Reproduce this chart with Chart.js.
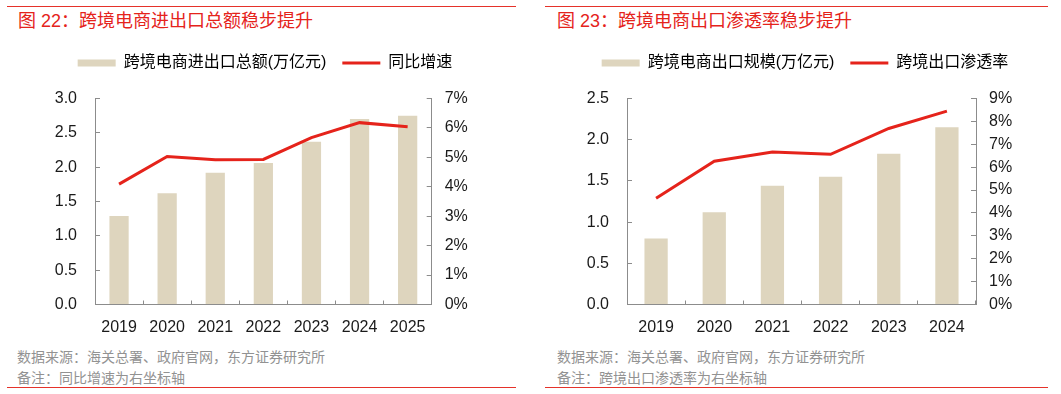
<!DOCTYPE html>
<html>
<head>
<meta charset="utf-8">
<script src="https://cdn.jsdelivr.net/npm/chart.js@4"></script>
<style>
  body { margin: 0; background: #fff; width: 1061px; height: 394px; position: relative; overflow: hidden;
         font-family: "Liberation Sans", "Noto Sans CJK SC", sans-serif; }
  .rule { position: absolute; height: 1px; background: #e5322a; }
  .title { position: absolute; top: 11px; font-size: 18px; line-height: 20px; color: #e5231b; white-space: nowrap; }
  .note { position: absolute; font-size: 14px; line-height: 21px; color: #929292; white-space: nowrap; }
  canvas { position: absolute; top: 0; }
</style>
</head>
<body>
<div class="rule" style="left:7px; width:509px; top:6px"></div>
<div class="rule" style="left:545px; width:503px; top:6px"></div>
<div class="title" style="left:18px">图 22：跨境电商进出口总额稳步提升</div>
<div class="title" style="left:557px">图 23：跨境电商出口渗透率稳步提升</div>

<canvas id="chart-total" style="left:0; width:530px; height:345px"></canvas>
<canvas id="chart-export" style="left:549px; width:512px; height:345px"></canvas>

<div class="note" style="left:17px; top:347px">数据来源：海关总署、政府官网，东方证券研究所</div>
<div class="note" style="left:17px; top:368px">备注：同比增速为右坐标轴</div>
<div class="note" style="left:557px; top:347px">数据来源：海关总署、政府官网，东方证券研究所</div>
<div class="note" style="left:557px; top:368px">备注：跨境出口渗透率为右坐标轴</div>
<div class="rule" style="left:7px; width:509px; top:387px"></div>
<div class="rule" style="left:545px; width:503px; top:387px"></div>

<script>
// 图 22 data
const years22 = ['2019', '2020', '2021', '2022', '2023', '2024', '2025'];
const total22 = [1.29, 1.62, 1.92, 2.06, 2.37, 2.70, 2.75];      // 万亿元
const growth22 = [4.09, 5.03, 4.92, 4.93, 5.67, 6.18, 6.04];     // %

// 图 23 data
const years23 = ['2019', '2020', '2021', '2022', '2023', '2024'];
const export23 = [0.80, 1.12, 1.44, 1.55, 1.83, 2.15];           // 万亿元
const rate23 = [4.64, 6.26, 6.66, 6.56, 7.69, 8.45];             // %

const BAR = '#ded5be';
const RED = '#e5231b';
const AXIS = '#8c8c8c';

Chart.defaults.font.family = "'Liberation Sans', 'Noto Sans CJK SC', sans-serif";
Chart.defaults.color = '#1a1a1a';

// push the plot area down below the legend
const legendGap = {
  id: 'legendGap',
  beforeInit(chart, args, opts) {
    const fit = chart.legend.fit;
    chart.legend.fit = function () {
      fit.bind(chart.legend)();
      this.height += opts.extra;
    };
  }
};

function makeChart(canvasId, labels, bars, line, cfg) {
  const ctx = document.getElementById(canvasId);
  return new Chart(ctx, {
    type: 'bar',
    data: {
      labels: labels,
      datasets: [{
        type: 'bar',
        label: cfg.barLabel,
        data: bars,
        backgroundColor: BAR,
        borderWidth: 0,
        categoryPercentage: 1,
        barPercentage: 0.4,
        yAxisID: 'y',
        order: 1
      }, {
        type: 'line',
        label: cfg.lineLabel,
        data: line,
        borderColor: RED,
        borderWidth: 3,
        pointRadius: 0,
        tension: 0,
        yAxisID: 'y1',
        order: 0
      }]
    },
    options: {
      responsive: false,
      animation: false,
      devicePixelRatio: 1,
      layout: { padding: { top: 39, left: 0, right: 0, bottom: 0 } },
      plugins: {
        tooltip: { enabled: false },
        legendGap: { extra: 17.5 },
        legend: {
          position: 'top',
          labels: {
            font: { size: 16 },
            color: '#1a1a1a',
            usePointStyle: true,
            pointStyleWidth: 38,
            boxHeight: 7,
            padding: 16,
            generateLabels: () => [
              { text: cfg.barLabel, fillStyle: BAR, strokeStyle: BAR, lineWidth: 0, pointStyle: 'rect', hidden: false, datasetIndex: 0 },
              { text: cfg.lineLabel, fillStyle: RED, strokeStyle: RED, lineWidth: 3, pointStyle: 'line', hidden: false, datasetIndex: 1 }
            ]
          }
        }
      },
      scales: {
        x: {
          offset: true,
          grid: { offset: true, drawOnChartArea: false, tickLength: -4, tickColor: AXIS },
          border: { color: AXIS, width: 1 },
          ticks: { font: { size: 16 }, padding: 17, maxRotation: 0 },
          afterFit: (s) => { s.height = 40.5; }
        },
        y: {
          position: 'left',
          min: 0,
          max: cfg.leftMax,
          grid: { drawOnChartArea: false, tickLength: -5, tickColor: AXIS },
          border: { color: AXIS, width: 1 },
          ticks: { stepSize: 0.5, font: { size: 16 }, padding: 23, callback: (v) => v.toFixed(1) },
          afterFit: (s) => { s.width = cfg.leftW; }
        },
        y1: {
          position: 'right',
          min: 0,
          max: cfg.rightMax,
          grid: { drawOnChartArea: false, tickLength: -5, tickColor: AXIS },
          border: { color: AXIS, width: 1 },
          ticks: { stepSize: 1, font: { size: 16 }, padding: 18, callback: (v) => v + '%' },
          afterFit: (s) => { s.width = cfg.rightW; }
        }
      }
    },
    plugins: [legendGap]
  });
}

makeChart('chart-total', years22, total22, growth22, {
  barLabel: '跨境电商进出口总额(万亿元)',
  lineLabel: '同比增速',
  leftMax: 3, rightMax: 7,
  leftW: 95, rightW: 98.3
});

makeChart('chart-export', years23, export23, rate23, {
  barLabel: '跨境电商出口规模(万亿元)',
  lineLabel: '跨境出口渗透率',
  leftMax: 2.5, rightMax: 9,
  leftW: 78, rightW: 85
});
</script>
</body>
</html>
